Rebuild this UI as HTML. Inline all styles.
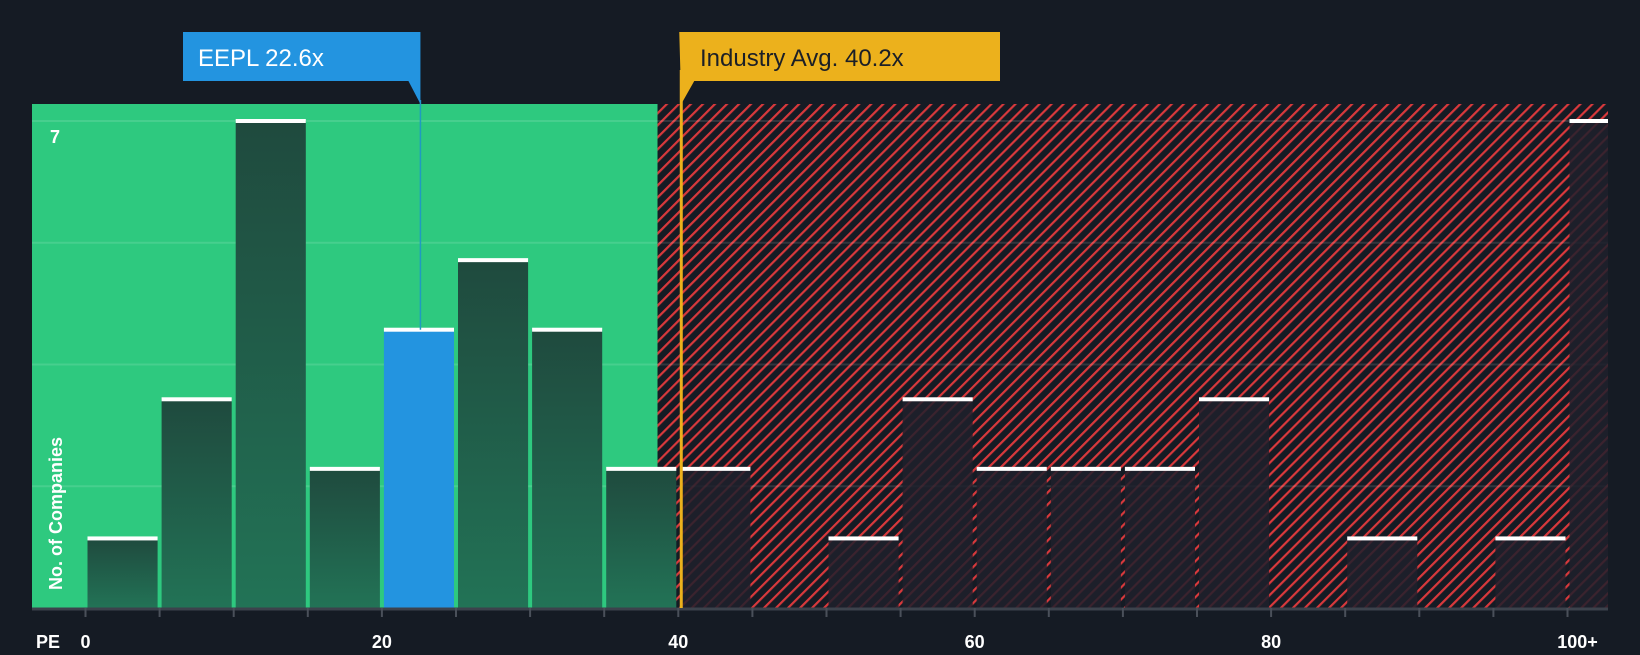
<!DOCTYPE html>
<html><head><meta charset="utf-8"><style>
body{margin:0;background:#151b24;width:1640px;height:650px;overflow:hidden;font-family:"Liberation Sans",sans-serif}
</style></head><body>
<svg width="1640" height="650" xmlns="http://www.w3.org/2000/svg">
<defs>
<pattern id="hatch" patternUnits="userSpaceOnUse" width="8.5" height="8.5" patternTransform="rotate(45)">
<rect width="8.5" height="8.5" fill="#151b24"/><rect x="0" width="2.2" height="8.5" fill="#d9393c"/>
</pattern>
<linearGradient id="gbar" x1="0" y1="0" x2="0" y2="1"><stop offset="0" stop-color="#1f4a3e"/><stop offset="1" stop-color="#227356"/></linearGradient>
</defs>
<g id="bg"></g><g id="grid"></g><g id="bars"></g><g id="axis"></g><g id="ann"></g>
</svg>
<script>
const binStarts=[0,5,10,15,20,25,30,35,40,45,50,55,60,65,70,75,80,85,90,95];
const counts=[1,3,7,2,4,5,4,2,2,0,1,3,2,2,2,3,0,1,0,1];
const overflowCount=7;
const xTicks=[0,20,40,60,80,100];
const xTickLabels=["0","20","40","60","80","100+"];
const yMax=7;
const companyPE=22.6, industryPE=40.2, fairEdge=38.6;
const NS="http://www.w3.org/2000/svg";
const L=32,R=1608,T=104,B=608;
const X=v=>85.5+v*14.82;
const Y=v=>B-v*(B-121)/yMax;
function el(t,a,p){const e=document.createElementNS(NS,t);for(const k in a)e.setAttribute(k,a[k]);document.getElementById(p).appendChild(e);return e;}
let e;
e=el('rect',{x:L,y:T,width:X(fairEdge)-L,height:B-T,fill:'#2ec97f'},'bg');


e=el('rect',{x:X(fairEdge),y:T,width:R-X(fairEdge),height:B-T,fill:'url(#hatch)'},'bg');


for(let i=1;i<=4;i++){e=el('line',{x1:L,x2:R,y1:Y(yMax*i/4),y2:Y(yMax*i/4),stroke:'rgba(255,255,255,0.12)','stroke-width':2},'grid');

}
e=el('text',{x:50,y:Y(yMax)+22,fill:'#fff','font-size':18,'font-weight':'bold'},'grid');e.textContent=String(yMax);


e=el('text',{x:62,y:590,fill:'#fff','font-size':18,'font-weight':'bold',transform:'rotate(-90 62 590)'},'grid');e.textContent='No. of Companies';


function bar(x0,w,c,blue,name){
 const inGreen=x0<X(fairEdge);
 let fill=blue?'#2394e0':(inGreen?'url(#gbar)':'rgba(30,32,44,0.85)');
 if(c>0){e=el('rect',{x:x0,y:Y(c),width:w,height:B-Y(c),fill:fill},'bars');
 
 
 e=el('rect',{x:x0,y:Y(c)-2,width:w,height:4,fill:'#fff'},'bars');
 
 }
}
binStarts.forEach((s,i)=>{const x0=X(s)+2,w=X(s+5)-X(s)-4;bar(x0,w,counts[i],companyPE>=s&&companyPE<s+5,'bar-'+s);});
bar(X(100)+2,R-X(100)-2,overflowCount,false,'bar-100-plus');
e=el('line',{x1:L,x2:R,y1:B+1,y2:B+1,stroke:'#3c424c','stroke-width':3},'axis');


for(let v=0;v<=100;v+=5){e=el('line',{x1:X(v),x2:X(v),y1:B,y2:B+9,stroke:'#4a505a','stroke-width':2},'axis');

}
xTicks.forEach((v,i)=>{e=el('text',{x:X(v)+(i==5?10:0),y:648,fill:'#fff','font-size':18,'font-weight':'bold','text-anchor':'middle'},'axis');e.textContent=xTickLabels[i];

});
e=el('text',{x:36,y:648,fill:'#fff','font-size':18,'font-weight':'bold'},'axis');e.textContent='PE';


const cx=X(companyPE);
e=el('line',{x1:cx,x2:cx,y1:100,y2:Y(counts[4]),stroke:'#1f9bc0','stroke-width':1.5},'ann');


e=el('path',{d:`M183 32 H${cx} V104 L${cx-12} 81 H183 Z`,fill:'#2394e0'},'ann');


e=el('text',{x:198,y:66,fill:'#fff','font-size':24},'ann');e.textContent='EEPL '+companyPE+'x';


const ix=X(industryPE);
e=el('line',{x1:ix,x2:ix,y1:70,y2:B,stroke:'#ecb11c','stroke-width':3},'ann');


e=el('path',{d:`M${ix-2} 32 H1000 V81 H${ix+13} L${ix} 104 Z`,fill:'#ecb11c'},'ann');


e=el('text',{x:700,y:66,fill:'#1b1f27','font-size':24},'ann');e.textContent='Industry Avg. '+industryPE+'x';


</script>
</body></html>
